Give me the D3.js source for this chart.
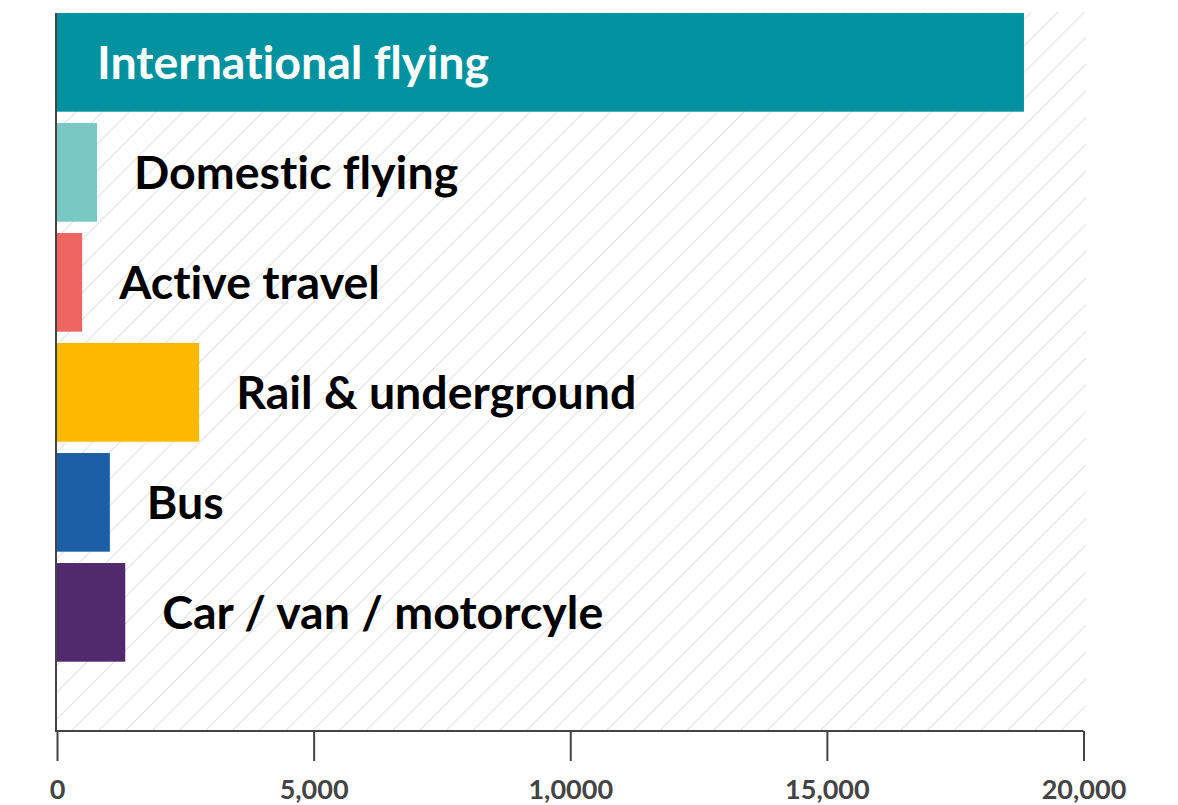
<!DOCTYPE html>
<html>
<head>
<meta charset="utf-8">
<script src="https://cdn.jsdelivr.net/npm/d3@7"></script>
<style>
  html, body { margin: 0; padding: 0; background: #ffffff; }
  svg { display: block; }
  .bar-label, .tick-label {
    font-family: Lato, "Open Sans", sans-serif;
    font-weight: 700;
    font-variant-ligatures: none;
    font-feature-settings: "liga" 0, "clig" 0;
  }
  .tick-label { fill: #444444; }
</style>
</head>
<body>
<svg id="chart" width="1178" height="805"></svg>
<script>
// Emissions by mode of travel
const categories = [
  "International flying",
  "Domestic flying",
  "Active travel",
  "Rail & underground",
  "Bus",
  "Car / van / motorcyle"
];
const values = [18840, 780, 490, 2770, 1030, 1330];
const colors = ["#00929f", "#7ac8c2", "#ee6561", "#fcb900", "#1c5fa6", "#512a6e"];
const tickValues = [0, 5000, 10000, 15000, 20000];
const tickLabels = ["0", "5,000", "1,0000", "15,000", "20,000"];

const svg = d3.select("#chart");
const axisColor = "#444444";

const plot = { left: 57, right: 1083.5, top: 13, bottom: 731 };

const x = d3.scaleLinear().domain([0, 20000]).range([plot.left, plot.right]);
const y = d3.scaleBand()
  .domain(categories)
  .range([plot.top, 661.7])
  .paddingInner(0.103)
  .paddingOuter(0);

// Hatched background
const defs = svg.append("defs");
const pat = defs.append("pattern")
  .attr("id", "hatch")
  .attr("patternUnits", "userSpaceOnUse")
  .attr("width", 18.9)
  .attr("height", 18.9)
  .attr("patternTransform", "rotate(45)");
pat.append("line")
  .attr("x1", 0).attr("y1", 0)
  .attr("x2", 0).attr("y2", 18.9)
  .attr("stroke", "#d6d6d6")
  .attr("stroke-width", 1.5);

svg.append("rect")
  .attr("x", plot.left)
  .attr("y", 12)
  .attr("width", 1086 - plot.left)
  .attr("height", plot.bottom - 12)
  .attr("fill", "url(#hatch)");

// Bars
const rows = categories.map((c, i) => ({ name: c, value: values[i], color: colors[i] }));

svg.append("g")
  .selectAll("rect")
  .data(rows)
  .join("rect")
  .attr("x", x(0))
  .attr("y", d => y(d.name))
  .attr("width", d => x(d.value) - x(0))
  .attr("height", y.bandwidth())
  .attr("fill", d => d.color);

// Labels: inside the long bar, just past the end of the short ones
const fontSize = 46.5;
svg.append("g")
  .selectAll("text")
  .data(rows)
  .join("text")
  .attr("class", "bar-label")
  .attr("font-size", fontSize)
  .attr("x", d => d.value > 10000 ? x(0) + 40 : x(d.value) + 37)
  .attr("y", d => y(d.name) + y.bandwidth() / 2 + 16.5)
  .attr("fill", d => d.value > 10000 ? "#ffffff" : "#000000")
  .text(d => d.name);

// X axis
const xAxis = d3.axisBottom(x)
  .tickValues(tickValues)
  .tickSize(30)
  .tickFormat((d, i) => tickLabels[i]);

const gx = svg.append("g")
  .attr("transform", `translate(0,${plot.bottom})`)
  .call(xAxis);
gx.select(".domain")
  .attr("d", `M${plot.left},0H${plot.right}`)
  .attr("stroke", axisColor)
  .attr("stroke-width", 2);
gx.selectAll(".tick line")
  .attr("stroke", axisColor)
  .attr("stroke-width", 2);
gx.selectAll(".tick text")
  .attr("class", "tick-label")
  .attr("font-size", 27)
  .attr("y", 68)
  .attr("dy", 0);

// Y axis line
svg.append("line")
  .attr("x1", 56).attr("x2", 56)
  .attr("y1", plot.top).attr("y2", plot.bottom + 1)
  .attr("stroke", axisColor)
  .attr("stroke-width", 2);
</script>
</body>
</html>
